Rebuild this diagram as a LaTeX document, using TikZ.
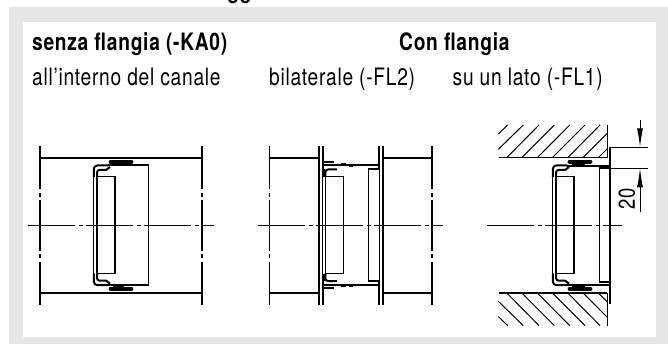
\documentclass[tikz,border=0pt]{standalone}
\usepackage{fontspec}
\usetikzlibrary{arrows.meta}
\setmainfont{TeX Gyre Heros}[FakeStretch=0.8,LetterSpace=3]
\definecolor{panelgray}{gray}{0.9}
\tikzset{
  base/.style={line width=1.2pt,line cap=butt,black},
  duct/.style={line width=1.9pt},
  clip bar/.style={line width=3.8pt,line cap=round},
  axisline/.style={line width=1.1pt,dash pattern=on 47pt off 3.5pt on 4pt off 3.5pt},
  hatchline/.style={line width=1pt},
  lab/.style={anchor=base west,inner sep=0pt,font=\fontsize{24}{26}\selectfont},
  blab/.style={lab,font=\fontsize{24}{26}\selectfont\bfseries},
  dimtip/.style={-{Latex[length=19pt,width=6pt]},line width=1pt}
}
% wall line with its short break, from the top down to the axis
\newcommand{\wall}[1]{%
  \draw[base] (#1,146) -- (#1,189) (#1,193) -- (#1,197) (#1,200) -- (#1,225.3);}
% the frame profile of the damper, upper half
\newcommand{\profile}[1]{%
  \begin{scope}[xshift=#1pt]
  \draw[line width=2pt,line join=round] (93.8,177) -- (93.8,169) to[out=90,in=180] (97.5,165.4) -- (108,165.4);
  \draw[line width=2pt,line join=round] (97,177) -- (97,172.5) to[out=90,in=180] (99.5,170) -- (106,170) -- (110,167);
  \draw[base] (93.8,177) -- (93.8,225.3) (97,177) -- (97,225.3);
  \draw[base] (97,176.8) -- (115,176.8) -- (115,225.3);
  \end{scope}}
\begin{document}
\begin{tikzpicture}[x=1pt,y=-1pt]
\useasboundingbox (0,0) rectangle (668,344);
\fill[white] (0,0) rectangle (668,344);
\node[inner sep=0pt,anchor=base,font=\fontsize{24}{26}\selectfont\bfseries] (title) at (239.5,-1) {gg};
\fill[panelgray] (9,7.5) rectangle (668,344);
\fill[white] (22.7,22) rectangle (656,336.7);
\node[blab] (t1) at (32,50.5) {senza flangia (-KA0)};
\node[blab] (t2) at (399,50.5) {Con flangia};
\node[lab] (s1) at (32,86) {all'interno del canale};
\node[lab] (s2) at (269,86) {bilaterale (-FL2)};
\node[lab] (s3) at (452.5,86) {su un lato (-FL1)};
% axes
\draw[axisline] (28,225.3) -- (214,225.3);
\draw[axisline] (258.3,225.3) -- (443,225.3);
\draw[axisline] (487,225.3) -- (622,225.3);
% both halves
\foreach \mir in {0,1}{
\begin{scope}[shift={(0,\mir*450.6)},yscale=1-2*\mir]
  % left figure
  \wall{40} \wall{202}
  \draw[duct] (40,157.7) -- (202,157.7);
  \draw[clip bar] (110.5,162) -- (131.5,162);
  \draw[line width=1.8pt] (113,164) -- (124,164);
  \profile{0}
  \draw[line width=1.8pt] (108,165.4) -- (148.5,165.4);
  \draw[base] (148.3,165.4) -- (148.3,225.3);
  % middle figure
  \wall{269.3} \wall{432}
  \draw[duct] (269.3,157.7) -- (318.5,157.7) (383,157.7) -- (432,157.7);
  \draw[line width=1.9pt] (319,146) -- (319,177) (322.6,146) -- (322.6,177);
  \draw[line width=1.9pt] (379.3,146) -- (379.3,169) (383,146) -- (383,169);
  \draw[base] (319,177) -- (319,225.3) (322.3,177) -- (322.3,225.3);
  \draw[base] (379.3,169) -- (379.3,225.3) (383,169) -- (383,225.3);
  \draw[line width=2pt] (322,162.3) -- (333.5,162.3);
  \draw[line width=1.9pt] (322,165.4) -- (379,165.4);
  \draw[line width=3pt] (341,165) -- (346,165) (349,165.4) -- (353,165.4);
  \draw[line width=2pt] (325.3,177) -- (325.3,172.5) to[out=90,in=180] (328,169.5) -- (337,169.5);
  \draw[line width=2.6pt] (323.5,169.5) -- (323.5,177);
  \draw[base] (325.3,176.8) -- (325.3,225.3);
  \draw[base] (325.3,176.8) -- (343.7,176.8) -- (343.7,225.3);
  \draw[line width=2pt] (368.3,169.3) -- (380,169.3);
  \draw[base] (368.3,169.3) -- (368.3,225.3);
  % right figure
  \draw[line width=1.5pt] (499,157.7) -- (607.3,157.7);
  \draw[base] (607.3,125) -- (607.3,157.7);
  \foreach \a/\b/\c/\d in {
    498.3/134/507.7/125, 498.3/149.3/523.3/125, 506.7/157.7/539/125,
    521.7/157.7/554.3/125, 537.3/157.7/569.7/125, 552.3/157.7/585/125,
    567.7/157.7/600/125, 583/157.7/607.3/133.3, 598.3/157.7/607.3/148.7}
    \draw[hatchline] (\a,\b) -- (\c,\d);
  \draw[clip bar] (569.5,161.7) -- (590.5,161.7);
  \draw[line width=2.2pt] (572,164) -- (585,164);
  \profile{459}
  \draw[line width=1.8pt] (567,166) -- (609,166);
  \draw[line width=1.8pt] (599.3,168.3) -- (609,168.3);
  \draw[base] (599.3,168.3) -- (599.3,225.3);
  \draw[base] (610,168) -- (610,225.3);
\end{scope}
}
% the thick flange of the right figure
\draw[line width=2.2pt] (610,147) -- (610,168.5);
\draw[line width=2.2pt] (610,281) -- (610,304);
% dimension
\coordinate (e1) at (610,147.3);
\coordinate (e2) at (610,168.3);
\coordinate (x1) at (648,147.3);
\coordinate (x2) at (648,168.3);
\coordinate (d1) at (640,147.3);
\coordinate (d2) at (640,168.3);
\coordinate (dt) at (640,120);
\coordinate (db) at (640,212);
\draw[line width=1pt] (e1) -- (x1);
\draw[line width=1pt] (e2) -- (x2);
\draw[dimtip] (dt) -- (d1);
\draw[dimtip] (db) -- (d2);
\node[inner sep=0pt,rotate=90,font=\fontsize{23}{26}\selectfont] (dimv) at (627,199) {20};
\end{tikzpicture}
\end{document}
